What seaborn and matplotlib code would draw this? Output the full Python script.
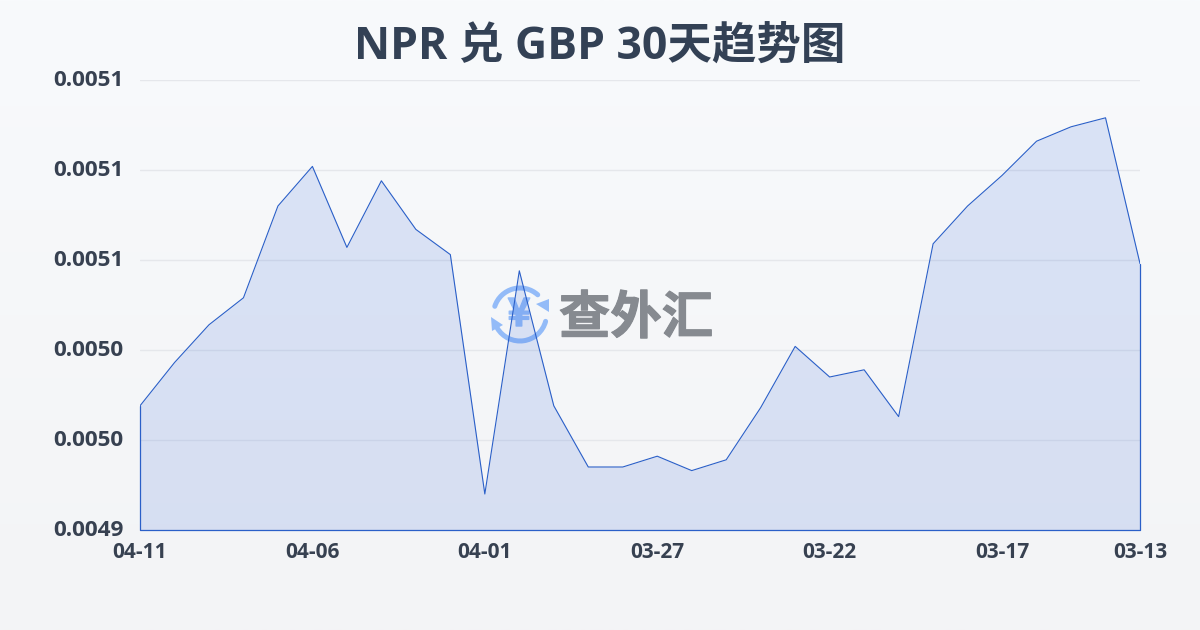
import numpy as np
import pandas as pd
import matplotlib
matplotlib.use("Agg")
import matplotlib.pyplot as plt
from matplotlib.patches import Arc, Polygon
from matplotlib.transforms import ScaledTranslation
import matplotlib.patheffects as pe
import seaborn as sns

dates = ["04-11","04-10","04-09","04-08","04-07","04-06","04-05","04-04","04-03","04-02",
         "04-01","03-31","03-30","03-29","03-28","03-27","03-26","03-25","03-24","03-23",
         "03-22","03-21","03-20","03-19","03-18","03-17","03-16","03-15","03-14","03-13"]
rates = [0.004969,0.004993,0.005014,0.005029,0.005080,0.005102,0.005057,0.005094,0.005067,0.005053,
         0.004920,0.005044,0.004969,0.004935,0.004935,0.004941,0.004933,0.004939,0.004968,0.005002,
         0.004985,0.004989,0.004963,0.005059,0.005080,0.005097,0.005116,0.005124,0.005129,0.005048]
y_ticks = [0.0049,0.00495,0.0050,0.00505,0.0051,0.00515]
y_labels = ["0.0049","0.0050","0.0050","0.0051","0.0051","0.0051"]
x_tick_labels = ["04-11","04-06","04-01","03-27","03-22","03-17","03-13"]
title = "NPR 兑 GBP 30天趋势图"
watermark = "查外汇"

sns.set_theme(style="white")
fam = ['Open Sans', 'Noto Sans CJK SC', 'DejaVu Sans']
plt.rcParams['font.family'] = fam

W, H = 1200, 630
fig = plt.figure(figsize=(W/100, H/100), dpi=100)

# background gradient
bg = fig.add_axes([0, 0, 1, 1], zorder=0)
bg.imshow(np.linspace(0, 1, 256).reshape(-1, 1), aspect="auto", extent=[0, W, H, 0],
          cmap=matplotlib.colors.LinearSegmentedColormap.from_list("bg", ["#f8fafc", "#f3f4f6"]))
bg.set_xlim(0, W); bg.set_ylim(H, 0); bg.axis("off")

# watermark, in pixel coordinates, below the chart
blue = "#93bbf8"
cx, cy, r = 520, 314.5, 26.5
bg.add_patch(Arc((cx, cy), 2*r, 2*r, theta1=198, theta2=312, lw=3.6, color=blue, capstyle="round"))
bg.add_patch(Arc((cx, cy), 2*r, 2*r, theta1=15, theta2=149, lw=3.6, color=blue, capstyle="round"))
bg.add_patch(Polygon([[549, 299], [549, 312], [536, 304]], color=blue, lw=0))
bg.add_patch(Polygon([[491, 317], [492, 331], [503, 325]], color=blue, lw=0))
y_mark = bg.text(cx-1, cy, "¥", ha="center", va="center", fontsize=28, fontweight="bold",
                 color=blue, family="Noto Sans CJK SC")
y_mark.set_path_effects([pe.withStroke(linewidth=1.0, foreground=blue)])
t = bg.text(636, 318, watermark, ha="center", va="center", fontsize=37, fontweight="bold",
            color="#868a90", family="Noto Sans CJK SC")
t.set_path_effects([pe.withStroke(linewidth=0.8, foreground="#868a90")])

ax = fig.add_axes([140/W, 1-530/H, 1000/W, 450/H], zorder=1)
ax.patch.set_alpha(0)
df = pd.DataFrame({"i": np.arange(len(dates)), "rate": rates})
base = y_ticks[0]
ax.fill_between(df["i"], df["rate"], base, color="#2a5fd8", alpha=0.14, lw=0, zorder=2)
sns.lineplot(data=df, x="i", y="rate", ax=ax, color="#2a5fc8", lw=0.8, zorder=3)
# closing edges of the area outline
ax.plot([df["i"].iloc[0], df["i"].iloc[0], df["i"].iloc[-1], df["i"].iloc[-1]],
        [rates[0], base, base, rates[-1]], color="#2a5fc8", lw=0.9, zorder=3, clip_on=False)

ax.set_xlim(0, len(dates)-1)
ax.set_ylim(y_ticks[0], y_ticks[-1])
ax.set_xticks([dates.index(d) for d in x_tick_labels])
ax.set_xticklabels(x_tick_labels, fontsize=15, fontweight="bold", color="#374151")
ax.set_yticks(y_ticks)
ax.set_yticklabels(y_labels, fontsize=16.2, fontweight="bold", color="#374151")
ax.tick_params(axis="x", length=0, pad=9)
ax.tick_params(axis="y", length=0, pad=12)
shift = ScaledTranslation(0, 2/100, fig.dpi_scale_trans)
for lab in ax.get_yticklabels():
    lab.set_transform(lab.get_transform() + shift)
ax.set_xlabel(""); ax.set_ylabel("")
ax.grid(axis="y", color="#e5e7eb", lw=1)
ax.set_axisbelow(True)
for s in ax.spines.values():
    s.set_visible(False)

fig.text(600/W, 1-47/H, title, ha="center", va="center", fontsize=32, fontweight="bold", color="#334155")
fig.savefig("out.png", dpi=100)
